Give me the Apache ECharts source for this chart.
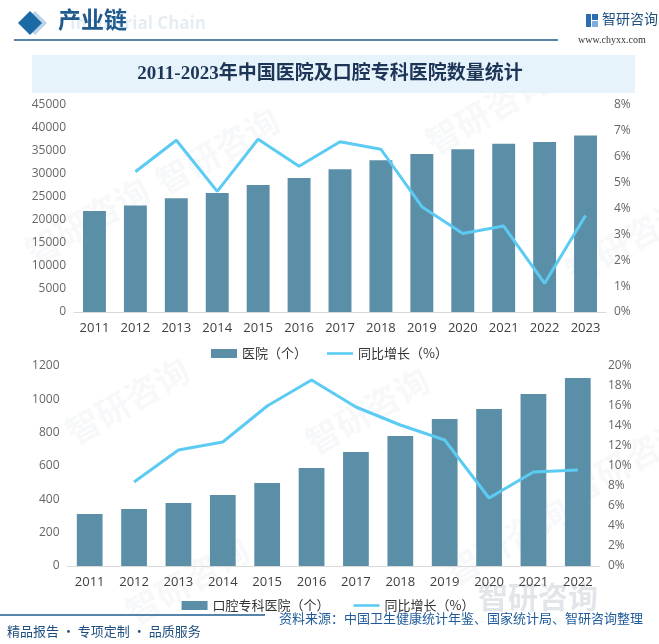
<!DOCTYPE html>
<html><head><meta charset="utf-8">
<script src="https://cdn.jsdelivr.net/npm/echarts@6/dist/echarts.min.js"></script>
<style>html,body{margin:0;padding:0;background:#fff}#c{width:659px;height:644px}</style>
</head><body><div id="c"></div>
<script>
const years1 = ['2011','2012','2013','2014','2015','2016','2017','2018','2019','2020','2021','2022','2023'];
const hospitals = [21979,23170,24709,25860,27587,29140,31056,33009,34354,35394,36570,36976,38355];
const hospGrowth = [null,5.42,6.64,4.66,6.68,5.63,6.58,6.29,4.07,3.03,3.32,1.11,3.73];
const years2 = ['2011','2012','2013','2014','2015','2016','2017','2018','2019','2020','2021','2022'];
const dental = [312,342,378,426,498,588,684,780,882,942,1032,1128];
const dentalGrowth = [null,8.4,11.6,12.4,16.0,18.6,15.9,14.1,12.6,6.8,9.4,9.6];

const BAR = '#5b8fa8', LINE = '#5ccbf4';
const axisLbl = {color:'#666', fontSize:12, fontFamily:'Open Sans, Noto Sans CJK SC, sans-serif', formatter:v=>String(v)};
const catLbl = {color:'#404040', fontSize:13, fontFamily:'Open Sans, Noto Sans CJK SC, sans-serif', margin:10};
const legText = {color:'#333', fontSize:13, fontFamily:'Noto Sans CJK SC, sans-serif'};
const lineIcon = 'path://M0,0L30,0L30,3L0,3Z';

const chart = echarts.init(document.getElementById('c'));
const wm = [];
[[150,170],[420,130],[560,260],[60,420],[300,430],[560,480],[120,600],[440,560],[20,240]].forEach(p=>{
  wm.push({type:'text', x:p[0], y:p[1], rotation:Math.PI/6, silent:true, z:-1,
    style:{text:'智研咨询', fill:'rgba(190,200,212,0.12)', font:'bold 34px Noto Sans CJK SC'}});
});
chart.setOption({
  animation:false,
  graphic: wm.concat([
    {type:'text', left:70, top:16, z:-1, style:{text:'Industrial Chain', fill:'rgba(170,195,220,0.3)', font:'bold 17px Open Sans'}},
    {type:'polygon', shape:{points:[[35,11],[47,23],[35,35],[23,23]]}, style:{fill:'#b9d4ea'}},
    {type:'polygon', shape:{points:[[30,11],[42,23],[30,35],[18,23]]}, style:{fill:'#1b6aa5'}},
    {type:'text', left:58, top:8, style:{text:'产业链', fill:'#1f5b8e', font:'bold 23px Noto Sans CJK SC'}},
    {type:'line', shape:{x1:14,y1:40,x2:558,y2:40}, style:{stroke:'#1f5b8e', lineWidth:1.5}},
    {type:'rect', shape:{x:586,y:14,width:5,height:13}, style:{fill:'#2a6db0'}},
    {type:'rect', shape:{x:592,y:14,width:6,height:6}, style:{fill:'#2a6db0'}},
    {type:'rect', shape:{x:592,y:21,width:6,height:6}, style:{fill:'#7fb0dc'}},
    {type:'text', left:602, top:12, style:{text:'智研咨询', fill:'#1f4f7f', font:'14px Noto Sans CJK SC'}},
    {type:'text', left:578, top:35, style:{text:'www.chyxx.com', fill:'#333', font:'10px Liberation Serif'}},
    {type:'rect', shape:{x:32,y:55,width:603,height:38}, style:{fill:'#e7f3fb'}},
    {type:'text', x:330, y:74, style:{text:'2011-2023年中国医院及口腔专科医院数量统计', fill:'#1d3557', font:'bold 19px Liberation Serif, Noto Sans CJK SC', align:'center', verticalAlign:'middle'}},
    {type:'text', left:478, top:582, z:-1, style:{text:'智研咨询', fill:'rgba(160,170,182,0.3)', font:'bold 30px Noto Sans CJK SC'}},
    {type:'line', shape:{x1:0,y1:615,x2:265,y2:615}, style:{stroke:'#1f5b8e', lineWidth:1.5}},
    {type:'text', left:279, top:612, style:{text:'资料来源：中国卫生健康统计年鉴、国家统计局、智研咨询整理', fill:'#1f5b9a', font:'13px Noto Sans CJK SC'}},
    {type:'text', left:7, top:625, style:{text:'精品报告 · 专项定制 · 品质服务', fill:'#1f4f7f', font:'13px Noto Sans CJK SC'}}
  ]),
  legend:[
    {top:342, left:'center', itemGap:20, itemWidth:26, itemHeight:9, textStyle:legText,
      data:[{name:'医院（个）', icon:'rect'},{name:'同比增长（%）', icon:lineIcon, itemStyle:{color:LINE}}]},
    {top:594, left:'center', itemGap:24, itemWidth:26, itemHeight:9, textStyle:legText,
      data:[{name:'口腔专科医院（个）', icon:'rect'},{name:'同比增长（%） ', icon:lineIcon, itemStyle:{color:LINE}}]}
  ],
  grid:[
    {left:74, right:53, top:105, height:207},
    {left:67.5, right:59, top:366, height:200}
  ],
  xAxis:[
    {type:'category', gridIndex:0, data:years1, axisTick:{show:false}, axisLine:{lineStyle:{color:'#d9d9d9'}}, axisLabel:catLbl},
    {type:'category', gridIndex:1, data:years2, axisTick:{show:false}, axisLine:{lineStyle:{color:'#d9d9d9'}}, axisLabel:catLbl}
  ],
  yAxis:[
    {type:'value', gridIndex:0, min:0, max:45000, interval:5000, splitLine:{show:false}, axisLabel:axisLbl},
    {type:'value', gridIndex:0, min:0, max:8, interval:1, position:'right', splitLine:{show:false}, axisLabel:Object.assign({},axisLbl,{formatter:'{value}%'})},
    {type:'value', gridIndex:1, min:0, max:1200, interval:200, splitLine:{show:false}, axisLabel:axisLbl},
    {type:'value', gridIndex:1, min:0, max:20, interval:2, position:'right', splitLine:{show:false}, axisLabel:Object.assign({},axisLbl,{formatter:'{value}%'})}
  ],
  series:[
    {name:'医院（个）', type:'bar', xAxisIndex:0, yAxisIndex:0, data:hospitals, barWidth:'56%', itemStyle:{color:BAR}},
    {name:'同比增长（%）', type:'line', xAxisIndex:0, yAxisIndex:1, data:hospGrowth, symbol:'none', lineStyle:{color:LINE, width:3}, itemStyle:{color:LINE}},
    {name:'口腔专科医院（个）', type:'bar', xAxisIndex:1, yAxisIndex:2, data:dental, barWidth:'58%', itemStyle:{color:BAR}},
    {name:'同比增长（%） ', type:'line', xAxisIndex:1, yAxisIndex:3, data:dentalGrowth, symbol:'none', lineStyle:{color:LINE, width:3}, itemStyle:{color:LINE}}
  ]
});
</script></body></html>
